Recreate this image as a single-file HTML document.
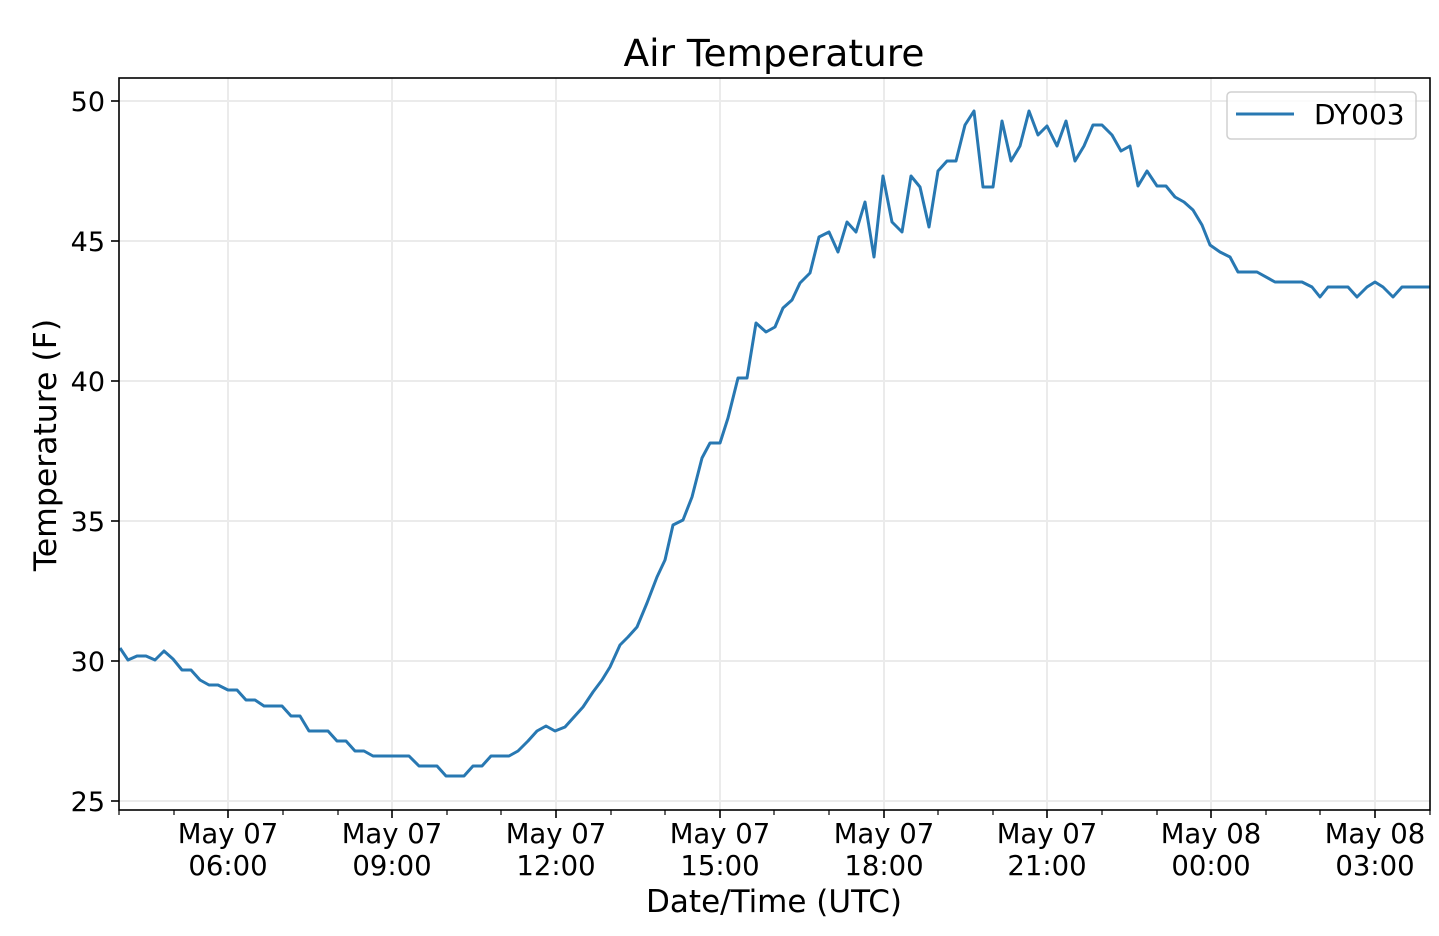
<!DOCTYPE html>
<html><head><meta charset="utf-8"><style>body{margin:0;background:#fff}svg{display:block}text{font-family:"DejaVu Sans","Liberation Sans",sans-serif;fill:#000}</style></head><body>
<svg width="1439" height="936" viewBox="0 0 1439 936" xmlns="http://www.w3.org/2000/svg">
<rect width="1439" height="936" fill="#fff"/>
<g stroke="#ebebeb" stroke-width="2">
<line x1="228" y1="78" x2="228" y2="810"/><line x1="392" y1="78" x2="392" y2="810"/><line x1="556" y1="78" x2="556" y2="810"/><line x1="720" y1="78" x2="720" y2="810"/><line x1="884" y1="78" x2="884" y2="810"/><line x1="1047" y1="78" x2="1047" y2="810"/><line x1="1211" y1="78" x2="1211" y2="810"/><line x1="1375" y1="78" x2="1375" y2="810"/>
<line x1="119" y1="101" x2="1430" y2="101"/><line x1="119" y1="241" x2="1430" y2="241"/><line x1="119" y1="381" x2="1430" y2="381"/><line x1="119" y1="521" x2="1430" y2="521"/><line x1="119" y1="661" x2="1430" y2="661"/><line x1="119" y1="801" x2="1430" y2="801"/>
</g>
<polyline fill="none" stroke="#2878b2" stroke-width="3" stroke-linejoin="round" points="120,648 128,660 137,656 146,656 155,660 164,651 173,659 182,670 191,670 200,680 209,685 218,685 228,690 237,690 246,700 255,700 264,706 273,706 282,706 291,716 300,716 309,731 318,731 328,731 337,741 346,741 355,751 364,751 373,756 382,756 391,756 400,756 409,756 419,766 428,766 437,766 446,776 455,776 464,776 473,766 482,766 491,756 500,756 509,756 518,751 528,741 537,731 546,726 555,731 565,727 574,717 583,707 593,692 602,680 610,667 620,645 628,637 637,627 647,603 657,577 665,560 673,525 683,520 692,497 702,458 710,443 720,443 728,418 738,378 747,378 756,323 766,332 775,327 783,308 792,300 800,283 810,273 819,237 829,232 838,252 847,222 856,232 865,202 874,257 883,176 892,222 902,232 911,176 920,187 929,227 938,171 947,161 956,161 965,125 974,111 983,187 993,187 1002,121 1011,161 1020,146 1029,111 1038,135 1047,126 1057,146 1066,121 1075,161 1084,146 1093,125 1102,125 1112,135 1121,151 1130,146 1138,186 1147,171 1157,186 1166,186 1175,197 1184,202 1193,210 1202,225 1210,245 1220,252 1230,257 1238,272 1257,272 1275,282 1302,282 1312,287 1320,297 1328,287 1348,287 1357,297 1367,287 1375,282 1383,287 1393,297 1402,287 1430,287"/>
<rect x="119" y="78" width="1311" height="732" fill="none" stroke="#000" stroke-width="1.6"/>
<g stroke="#000" stroke-width="1.6">
<line x1="111" y1="101" x2="119" y2="101"/><line x1="111" y1="241" x2="119" y2="241"/><line x1="111" y1="381" x2="119" y2="381"/><line x1="111" y1="521" x2="119" y2="521"/><line x1="111" y1="661" x2="119" y2="661"/><line x1="111" y1="801" x2="119" y2="801"/>
<line x1="228" y1="810" x2="228" y2="818"/><line x1="392" y1="810" x2="392" y2="818"/><line x1="556" y1="810" x2="556" y2="818"/><line x1="720" y1="810" x2="720" y2="818"/><line x1="884" y1="810" x2="884" y2="818"/><line x1="1047" y1="810" x2="1047" y2="818"/><line x1="1211" y1="810" x2="1211" y2="818"/><line x1="1375" y1="810" x2="1375" y2="818"/>
</g>
<g stroke="#000" stroke-width="1.2">
<line x1="174" y1="810" x2="174" y2="815"/><line x1="283" y1="810" x2="283" y2="815"/><line x1="338" y1="810" x2="338" y2="815"/><line x1="447" y1="810" x2="447" y2="815"/><line x1="501" y1="810" x2="501" y2="815"/><line x1="611" y1="810" x2="611" y2="815"/><line x1="665" y1="810" x2="665" y2="815"/><line x1="774" y1="810" x2="774" y2="815"/><line x1="829" y1="810" x2="829" y2="815"/><line x1="938" y1="810" x2="938" y2="815"/><line x1="993" y1="810" x2="993" y2="815"/><line x1="1102" y1="810" x2="1102" y2="815"/><line x1="1157" y1="810" x2="1157" y2="815"/><line x1="1266" y1="810" x2="1266" y2="815"/><line x1="1320" y1="810" x2="1320" y2="815"/><line x1="1430" y1="810" x2="1430" y2="815"/><line x1="119" y1="810" x2="119" y2="815"/>
</g>
<g font-size="27" text-anchor="end">
<text x="105" y="111">50</text><text x="105" y="251">45</text><text x="105" y="391">40</text><text x="105" y="531">35</text><text x="105" y="671">30</text><text x="105" y="811">25</text>
</g>
<g font-size="27.5" text-anchor="middle">
<text x="228" y="843">May 07</text><text x="228" y="875">06:00</text>
<text x="392" y="843">May 07</text><text x="392" y="875">09:00</text>
<text x="556" y="843">May 07</text><text x="556" y="875">12:00</text>
<text x="720" y="843">May 07</text><text x="720" y="875">15:00</text>
<text x="884" y="843">May 07</text><text x="884" y="875">18:00</text>
<text x="1047" y="843">May 07</text><text x="1047" y="875">21:00</text>
<text x="1211" y="843">May 08</text><text x="1211" y="875">00:00</text>
<text x="1375" y="843">May 08</text><text x="1375" y="875">03:00</text>
<text x="774" y="912" font-size="31">Date/Time (UTC)</text>
<text x="774" y="66" font-size="37.5">Air Temperature</text>
<text transform="translate(56,445) rotate(-90)" font-size="31.5">Temperature (F)</text>
</g>
<rect x="1227" y="92" width="189" height="47" rx="4" fill="#fff" fill-opacity="0.8" stroke="#d0d0d0" stroke-width="1.5"/>
<line x1="1236" y1="114" x2="1294" y2="114" stroke="#2878b2" stroke-width="3"/>
<text x="1314" y="124" font-size="28">DY003</text>
</svg>
</body></html>
